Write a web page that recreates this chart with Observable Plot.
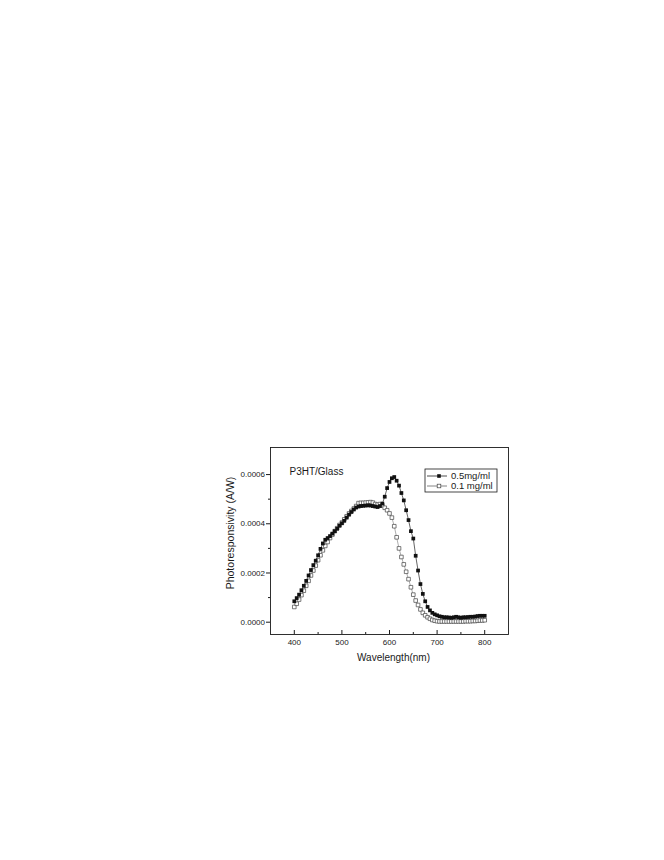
<!DOCTYPE html>
<html><head><meta charset="utf-8">
<script src="https://cdn.jsdelivr.net/npm/d3@7"></script>
<script src="https://cdn.jsdelivr.net/npm/@observablehq/plot@0.6"></script>
<style>body{margin:0;background:#fff}</style>
</head><body><div id="chart"></div>
<script>
// Wavelength (nm)
const wavelength = [400,405,410,415,420,425,430,435,440,445,450,455,460,465,470,475,480,485,490,495,
500,505,510,515,520,525,530,535,540,545,550,555,560,565,570,575,580,585,590,595,
600,605,610,615,620,625,630,635,640,645,650,655,660,665,670,675,680,685,690,695,
700,705,710,715,720,725,730,735,740,745,750,755,760,765,770,775,780,785,790,795,800];
// Photoresponsivity (A/W), 0.5 mg/ml
const resp05 = [0.85e-4,0.98e-4,1.12e-4,1.30e-4,1.48e-4,1.68e-4,1.90e-4,2.12e-4,2.32e-4,2.50e-4,
2.72e-4,2.98e-4,3.20e-4,3.35e-4,3.42e-4,3.50e-4,3.60e-4,3.70e-4,3.80e-4,3.92e-4,
4.02e-4,4.12e-4,4.25e-4,4.37e-4,4.48e-4,4.58e-4,4.66e-4,4.70e-4,4.72e-4,4.73e-4,
4.74e-4,4.75e-4,4.74e-4,4.72e-4,4.70e-4,4.68e-4,4.72e-4,4.82e-4,5.10e-4,5.45e-4,
5.70e-4,5.85e-4,5.90e-4,5.75e-4,5.55e-4,5.25e-4,4.95e-4,4.55e-4,4.15e-4,3.70e-4,
3.40e-4,2.70e-4,2.10e-4,1.55e-4,1.15e-4,0.85e-4,0.62e-4,0.48e-4,0.38e-4,0.32e-4,
0.28e-4,0.24e-4,0.22e-4,0.20e-4,0.20e-4,0.19e-4,0.18e-4,0.20e-4,0.22e-4,0.20e-4,
0.18e-4,0.20e-4,0.20e-4,0.21e-4,0.22e-4,0.22e-4,0.23e-4,0.25e-4,0.26e-4,0.26e-4,0.26e-4];
// Photoresponsivity (A/W), 0.1 mg/ml
const resp01 = [0.62e-4,0.75e-4,0.92e-4,1.10e-4,1.28e-4,1.48e-4,1.68e-4,1.90e-4,2.10e-4,2.30e-4,
2.52e-4,2.72e-4,2.92e-4,3.10e-4,3.26e-4,3.42e-4,3.56e-4,3.70e-4,3.82e-4,3.95e-4,
4.05e-4,4.18e-4,4.30e-4,4.42e-4,4.52e-4,4.62e-4,4.72e-4,4.84e-4,4.85e-4,4.85e-4,
4.86e-4,4.87e-4,4.88e-4,4.86e-4,4.80e-4,4.78e-4,4.80e-4,4.75e-4,4.65e-4,4.55e-4,
4.42e-4,4.25e-4,3.90e-4,3.45e-4,3.00e-4,2.65e-4,2.35e-4,2.05e-4,1.75e-4,1.42e-4,
1.12e-4,0.88e-4,0.70e-4,0.52e-4,0.38e-4,0.28e-4,0.20e-4,0.14e-4,0.09e-4,0.06e-4,
0.04e-4,0.03e-4,0.03e-4,0.03e-4,0.03e-4,0.03e-4,0.03e-4,0.03e-4,0.03e-4,0.03e-4,
0.03e-4,0.03e-4,0.04e-4,0.04e-4,0.04e-4,0.05e-4,0.05e-4,0.06e-4,0.07e-4,0.07e-4,0.08e-4];
const seriesNames = ["0.5mg/ml", "0.1 mg/ml"];
const xTicks = [400, 500, 600, 700, 800];
const xMinorTicks = [450, 550, 650, 750];
const yTicks = [0, 0.0002, 0.0004, 0.0006];
const yMinorTicks = [0.0001, 0.0003, 0.0005];
const sampleLabel = "P3HT/Glass";
const xLabel = "Wavelength(nm)";
const yLabel = "Photoresponsivity (A/W)";

const rows05 = wavelength.map((w, i) => ({w, v: resp05[i]}));
const rows01 = wavelength.map((w, i) => ({w, v: resp01[i]}));

const FONT = "'Liberation Sans', Arial, sans-serif";
const INK = "#1a1a1a";

const legend = (index, scales, values, dims) => {
  const g = d3.create("svg:g").attr("font-family", FONT).attr("font-size", 9.5).attr("text-anchor", "start");
  const right = dims.width - dims.marginRight - 11;
  const top = dims.marginTop + 22;
  const w = 72, h = 23;
  const left = right - w;
  g.append("rect").attr("x", left).attr("y", top).attr("width", w).attr("height", h)
    .attr("fill", "white").attr("stroke", INK).attr("stroke-width", 0.8);
  seriesNames.forEach((name, i) => {
    const cy = top + 7 + i * 10;
    g.append("line").attr("x1", left + 2).attr("x2", left + 22).attr("y1", cy).attr("y2", cy)
      .attr("stroke", i === 0 ? "#222" : "#666").attr("stroke-width", 0.8);
    g.append("rect").attr("x", left + 14 - 1.8).attr("y", cy - 1.8).attr("width", 3.6).attr("height", 3.6)
      .attr("fill", i === 0 ? "#111" : "white").attr("stroke", i === 0 ? "none" : "#444").attr("stroke-width", 0.7);
    g.append("text").attr("x", left + 26).attr("y", cy).attr("dy", "0.35em")
      .attr("text-anchor", "start").attr("fill", INK).text(name);
  });
  return g.node();
};

const chart = Plot.plot({
  width: 664,
  height: 860,
  marginLeft: 270,
  marginRight: 156,
  marginTop: 447,
  marginBottom: 226,
  style: {fontFamily: FONT, color: INK, background: "white"},
  x: {domain: [350, 850]},
  y: {domain: [-0.00005, 0.00071]},
  marks: [
    Plot.frame({stroke: INK, strokeWidth: 0.9}),
    // x axis: inward ticks, labels below
    Plot.axisX({ticks: xTicks, tickSize: -4, tickFormat: () => "", label: null, stroke: INK}),
    Plot.axisX({ticks: xMinorTicks, tickSize: -2, tickFormat: () => "", label: null, stroke: INK}),
    Plot.axisX({ticks: xTicks, tickSize: 0, tickPadding: 4.5, fontSize: 8, label: null, fill: INK}),
    // y axis: outward ticks
    Plot.axisY({ticks: yTicks, tickSize: 4, tickPadding: 1.5, tickFormat: d3.format(".4f"), fontSize: 8, label: null, stroke: INK, fill: INK}),
    Plot.axisY({ticks: yMinorTicks, tickSize: 2, tickFormat: () => "", label: null, stroke: INK}),
    Plot.text([xLabel], {frameAnchor: "bottom", dy: 23, dx: 4, textAnchor: "middle", lineAnchor: "middle", fontSize: 10, fill: INK}),
    Plot.text([yLabel], {frameAnchor: "left", dx: -40, dy: -8, rotate: -90, textAnchor: "middle", lineAnchor: "middle", fontSize: 10.5, fill: INK}),
    Plot.text([sampleLabel], {frameAnchor: "top-left", dx: 19, dy: 24, textAnchor: "start", lineAnchor: "middle", fontSize: 10, fill: INK}),
    // series 0.1 mg/ml (open squares)
    Plot.line(rows01, {x: "w", y: "v", stroke: "#777", strokeWidth: 0.6}),
    Plot.dot(rows01, {x: "w", y: "v", symbol: "square", r: 2.05, fill: "white", stroke: "#444", strokeWidth: 0.7}),
    // series 0.5 mg/ml (filled squares)
    Plot.line(rows05, {x: "w", y: "v", stroke: "#222", strokeWidth: 0.7}),
    Plot.dot(rows05, {x: "w", y: "v", symbol: "square", r: 2.1, fill: "#111", stroke: "none"}),
    legend
  ]
});
document.getElementById("chart").appendChild(chart);
</script>
</body></html>
